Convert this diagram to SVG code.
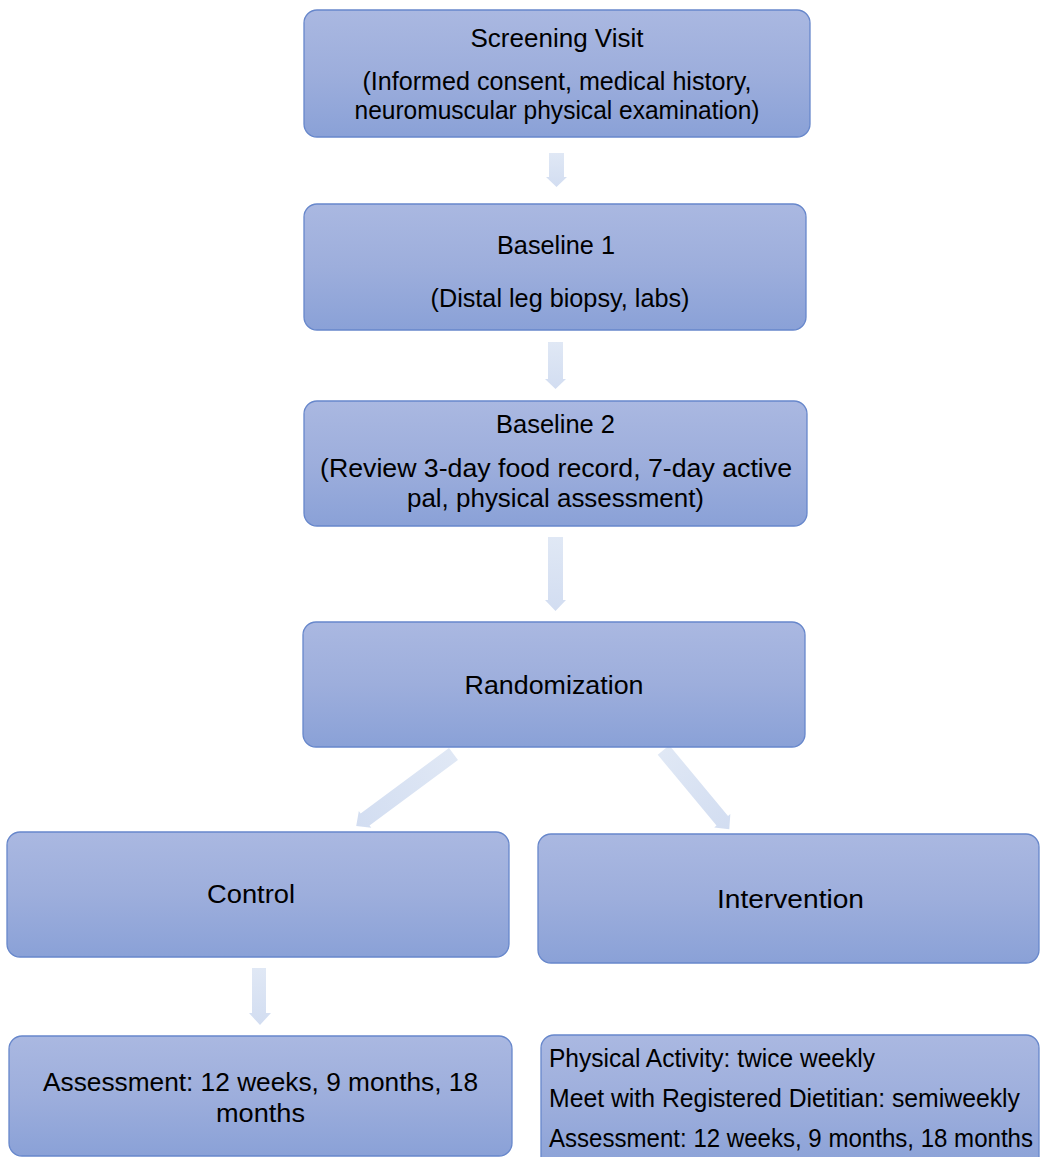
<svg xmlns="http://www.w3.org/2000/svg" width="1040" height="1157" viewBox="0 0 1040 1157">
<defs>
<linearGradient id="boxg" x1="0" y1="0" x2="0" y2="1">
<stop offset="0" stop-color="#AAB8E1"/>
<stop offset="0.5" stop-color="#9DAEDC"/>
<stop offset="1" stop-color="#8AA1D7"/>
</linearGradient>
<linearGradient id="arrg" x1="0" y1="0" x2="0" y2="1">
<stop offset="0" stop-color="#E0E8F5"/>
<stop offset="1" stop-color="#D2DDF1"/>
</linearGradient>
</defs>
<style>
.box{fill:url(#boxg);stroke:#6787CB;stroke-width:1.3}
.arr{fill:url(#arrg)}
text{font-family:"Liberation Sans",Arial,sans-serif;font-size:25px;fill:#000}
.c{text-anchor:middle}
</style>
<rect width="1040" height="1157" fill="#fff"/>
<g id="connectors">
<polygon class="arr" points="549,153 564,153 564,177 567,177 556.5,187 546,177 549,177"/>
<polygon class="arr" points="548,342 563,342 563,379 566,379 555.5,389 545,379 548,379"/>
<polygon class="arr" points="548,537 563,537 563,600 566,600 555.5,611 545,600 548,600"/>
<g transform="translate(453.5,754) rotate(53.5)"><polygon class="arr" points="-7.5,0 7.5,0 7.5,110 10.5,110 0,121 -10.5,110 -7.5,110"/></g>
<g transform="translate(663.5,750) rotate(-39.7)"><polygon class="arr" points="-7.5,0 7.5,0 7.5,92 10.5,92 0,103 -10.5,92 -7.5,92"/></g>
<polygon class="arr" points="252,968 266,968 266,1013 271,1013 260,1025 249,1013 252,1013"/>
</g>
<g id="screening">
<rect class="box" x="304" y="10" width="506" height="127" rx="13"/>
<text class="c" x="557" y="47" textLength="173" lengthAdjust="spacingAndGlyphs">Screening Visit</text>
<text class="c" x="557" y="90" textLength="389" lengthAdjust="spacingAndGlyphs">(Informed consent, medical history,</text>
<text class="c" x="557" y="119" textLength="405" lengthAdjust="spacingAndGlyphs">neuromuscular physical examination)</text>
</g>
<g id="baseline1">
<rect class="box" x="304" y="204" width="502" height="126" rx="13"/>
<text class="c" x="556" y="254" textLength="118" lengthAdjust="spacingAndGlyphs">Baseline 1</text>
<text class="c" x="560" y="307" textLength="259" lengthAdjust="spacingAndGlyphs">(Distal leg biopsy, labs)</text>
</g>
<g id="baseline2">
<rect class="box" x="304" y="401" width="503" height="125" rx="13"/>
<text class="c" x="555.5" y="433" textLength="119" lengthAdjust="spacingAndGlyphs">Baseline 2</text>
<text class="c" x="556" y="477" textLength="472" lengthAdjust="spacingAndGlyphs">(Review 3-day food record, 7-day active</text>
<text class="c" x="555.5" y="507" textLength="297" lengthAdjust="spacingAndGlyphs">pal, physical assessment)</text>
</g>
<g id="randomization">
<rect class="box" x="303" y="622" width="502" height="125" rx="13"/>
<text class="c" x="554" y="694" textLength="179" lengthAdjust="spacingAndGlyphs">Randomization</text>
</g>
<g id="control">
<rect class="box" x="7" y="832" width="502" height="125" rx="13"/>
<text class="c" x="251" y="903" textLength="88" lengthAdjust="spacingAndGlyphs">Control</text>
</g>
<g id="intervention">
<rect class="box" x="538" y="834" width="501" height="129" rx="13"/>
<text class="c" x="790.5" y="908" textLength="147" lengthAdjust="spacingAndGlyphs">Intervention</text>
</g>
<g id="control-assessment">
<rect class="box" x="9" y="1036" width="503" height="120" rx="13"/>
<text class="c" x="260.5" y="1091" textLength="435" lengthAdjust="spacingAndGlyphs">Assessment: 12 weeks, 9 months, 18</text>
<text class="c" x="260.5" y="1122" textLength="89" lengthAdjust="spacingAndGlyphs">months</text>
</g>
<g id="intervention-details">
<rect class="box" x="541" y="1035" width="498" height="135" rx="13"/>
<text x="549" y="1067" textLength="326" lengthAdjust="spacingAndGlyphs">Physical Activity: twice weekly</text>
<text x="549" y="1107" textLength="471" lengthAdjust="spacingAndGlyphs">Meet with Registered Dietitian: semiweekly</text>
<text x="549" y="1147" textLength="484" lengthAdjust="spacingAndGlyphs">Assessment: 12 weeks, 9 months, 18 months</text>
</g>
</svg>
